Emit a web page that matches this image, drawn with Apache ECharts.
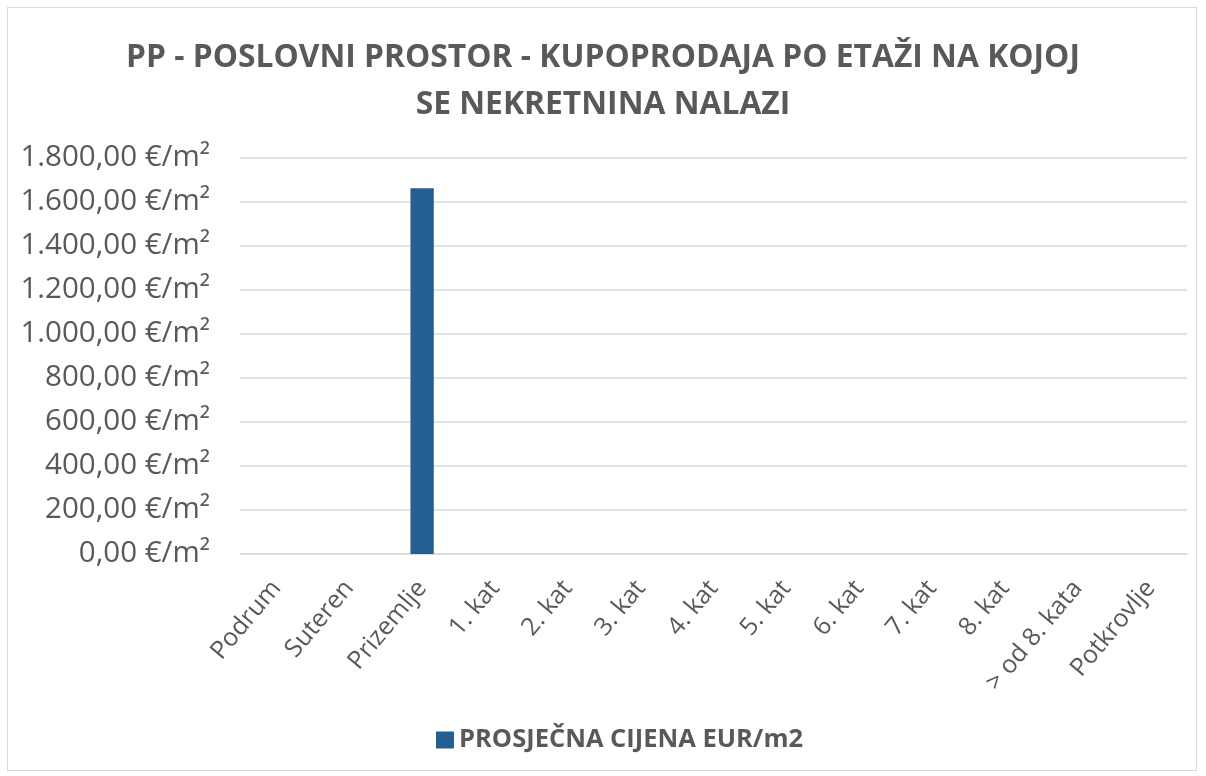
<!DOCTYPE html>
<html>
<head>
<meta charset="utf-8">
<script src="https://cdn.jsdelivr.net/npm/echarts@6/dist/echarts.min.js"></script>
<style>
  html, body { margin: 0; padding: 0; background: #fff; }
  #frame { position: absolute; left: 7px; top: 7px; width: 1190px; height: 764px; border: 1.5px solid #d9d9d9; box-sizing: border-box; }
  #chart { width: 1206px; height: 776px; }
</style>
</head>
<body>
<div id="frame"></div>
<div id="chart"></div>
<script>
const categories = ['Podrum', 'Suteren', 'Prizemlje', '1. kat', '2. kat', '3. kat', '4. kat', '5. kat', '6. kat', '7. kat', '8. kat', '> od 8. kata', 'Potkrovlje'];
const prices = [null, null, 1663, null, null, null, null, null, null, null, null, null, null];
const seriesName = 'PROSJEČNA CIJENA EUR/m2';
const titleText = 'PP - POSLOVNI PROSTOR - KUPOPRODAJA PO ETAŽI NA KOJOJ\nSE NEKRETNINA NALAZI';

const fmt = (v) => {
  const parts = v.toFixed(2).split('.');
  const intPart = parts[0].replace(/\B(?=(\d{3})+(?!\d))/g, '.');
  return intPart + ',' + parts[1] + ' €/m²';
};

const chart = echarts.init(document.getElementById('chart'));
chart.setOption({
  animation: false,
  textStyle: { fontFamily: "'Open Sans', sans-serif" },
  title: {
    text: titleText,
    left: 'center',
    top: 29,
    textStyle: { fontSize: 31.8, fontWeight: 'bold', color: '#595959', lineHeight: 47, fontFamily: "'Open Sans', sans-serif" }
  },
  legend: {
    bottom: 18,
    left: 431,
    itemWidth: 18,
    itemHeight: 17,
    itemGap: 6,
    icon: 'rect',
    textStyle: { fontSize: 25.5, fontWeight: 'bold', color: '#595959' },
    data: [seriesName]
  },
  grid: { left: 240, right: 19, top: 158, bottom: 222, containLabel: false },
  xAxis: {
    type: 'category',
    data: categories,
    axisLine: { show: true, lineStyle: { color: '#d9d9d9', width: 1.5 } },
    axisTick: { show: false },
    axisLabel: { rotate: 50, fontSize: 25, color: '#595959', margin: 30, interval: 0 }
  },
  yAxis: {
    type: 'value',
    min: 0,
    max: 1800,
    interval: 200,
    axisLine: { show: false },
    axisTick: { show: false },
    splitLine: { lineStyle: { color: '#d9d9d9', width: 1.5 } },
    axisLabel: { fontSize: 29.5, color: '#595959', margin: 30, formatter: fmt }
  },
  series: [{
    name: seriesName,
    type: 'bar',
    data: prices,
    barWidth: '32%',
    itemStyle: { color: '#255e91' }
  }]
});
</script>
</body>
</html>
